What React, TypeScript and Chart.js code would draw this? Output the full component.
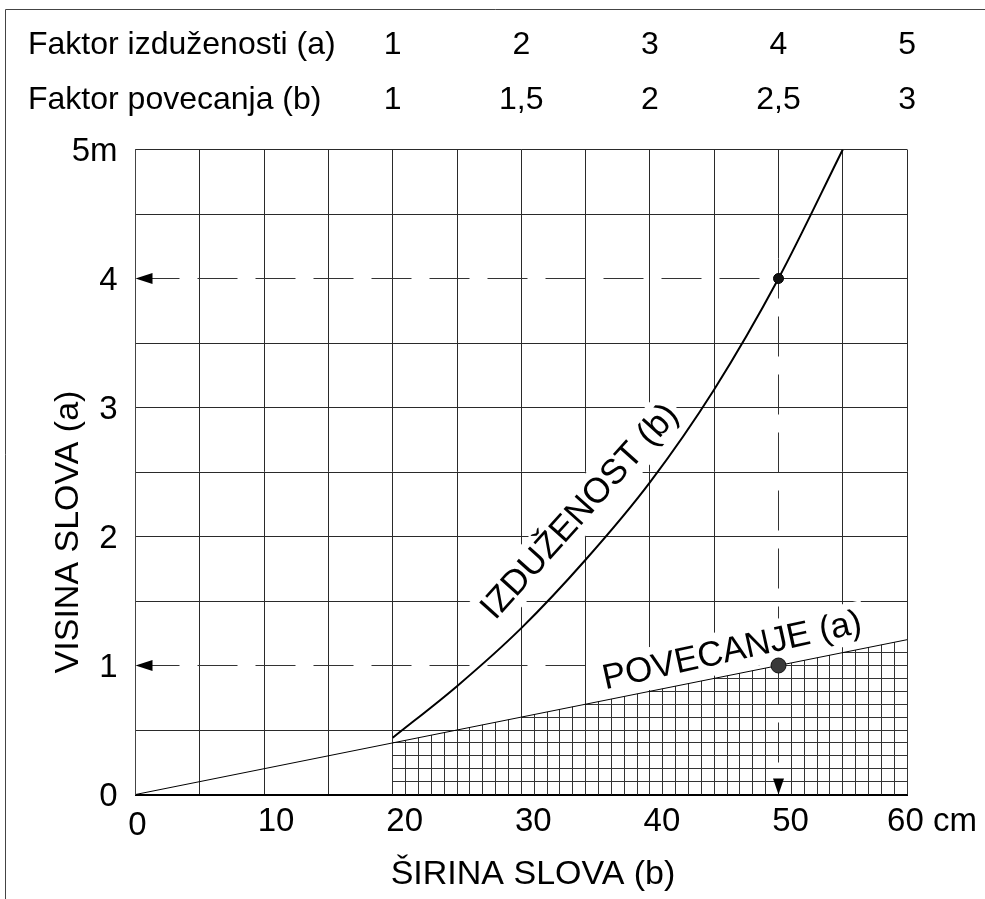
import React, { useEffect, useRef } from 'react';
import { Chart, registerables } from 'chart.js';

Chart.register(...registerables);

// ---- data ----
const X_TICKS = [0, 10, 20, 30, 40, 50, 60];
const X_TICK_LABELS = ['0', '10', '20', '30', '40', '50', '60 cm'];
const Y_TICKS = [0, 1, 2, 3, 4, 5];
const Y_TICK_LABELS = ['0', '1', '2', '3', '4', '5m'];

const TABLE_X = [20, 30, 40, 50, 60];
const FAKTOR_A = ['1', '2', '3', '4', '5'];
const FAKTOR_B = ['1', '1,5', '2', '2,5', '3'];
const ROW_A_LABEL = 'Faktor izduženosti (a)';
const ROW_B_LABEL = 'Faktor povecanja (b)';

const IZD_X = [20, 25, 30, 35, 40, 45, 50, 55];
const IZD_Y = [0.44, 0.84, 1.29, 1.82, 2.42, 3.14, 4.0, 5.0];

const POV_X = [0, 60];
const POV_Y = [0, 1.2];

const READ_X = 50;
const READ_A = 4;
const READ_B = 1;
const READ_TOP = 4.155;

const FINE_X_START = 20;
const FINE_X_END = 60;
const FINE_STEP_X = 1;
const FINE_STEP_Y = 0.1;

const CURVE_LABELS = [
  { text: 'IZDUŽENOST (b)', x: 34.58, y: 2.19, angle: -48 },
  { text: 'POVECANJE (a)', x: 46.4, y: 1.11, angle: -12.5 },
];

const X_TITLE = 'ŠIRINA SLOVA (b)';
const Y_TITLE = 'VISINA SLOVA (a)';

const FONT = '"Liberation Sans", Arial, Helvetica, sans-serif';
const GRID = '#2a2a2a';
const CLEAR = 'rgba(0,0,0,0)';

function povAt(x: number) {
  return POV_Y[0] + ((x - POV_X[0]) * (POV_Y[1] - POV_Y[0])) / (POV_X[1] - POV_X[0]);
}
function xAtPov(y: number) {
  return POV_X[0] + ((y - POV_Y[0]) * (POV_X[1] - POV_X[0])) / (POV_Y[1] - POV_Y[0]);
}
function align(p: number) {
  return Math.round(p - 0.5) + 0.5;
}

export default function App() {
  const ref = useRef<HTMLCanvasElement>(null);

  useEffect(() => {
    document.body.style.margin = '0';
    const canvas = ref.current!;
    let boxesDrawn = false;

    const deco = {
      id: 'deco',
      beforeDatasetsDraw(chart: any) {
        boxesDrawn = false;
        const { ctx } = chart;
        const xs = chart.scales.x;
        const ys = chart.scales.y;
        ctx.save();
        ctx.lineWidth = 1;
        // solid remainders of the grid lines that carry the reading lines
        ctx.strokeStyle = GRID;
        ctx.beginPath();
        for (const v of [READ_A, READ_B]) {
          const py = align(ys.getPixelForValue(v));
          ctx.moveTo(xs.getPixelForValue(READ_X), py);
          ctx.lineTo(xs.getPixelForValue(60), py);
        }
        const rx = align(xs.getPixelForValue(READ_X));
        ctx.moveTo(rx, ys.getPixelForValue(5));
        ctx.lineTo(rx, ys.getPixelForValue(READ_TOP));
        ctx.stroke();

        // fine hatching under POVECANJE line
        ctx.strokeStyle = '#333';
        ctx.beginPath();
        const nX = Math.round((FINE_X_END - FINE_X_START) / FINE_STEP_X);
        for (let i = 0; i <= nX; i++) {
          const x = FINE_X_START + i * FINE_STEP_X;
          if (x === READ_X) continue;
          const px = align(xs.getPixelForValue(x));
          ctx.moveTo(px, ys.getPixelForValue(0));
          ctx.lineTo(px, ys.getPixelForValue(povAt(x)));
        }
        const maxY = povAt(FINE_X_END);
        for (let k = 1; k * FINE_STEP_Y < maxY - 1e-9; k++) {
          const y = k * FINE_STEP_Y;
          const py = align(ys.getPixelForValue(y));
          const x0 = Math.max(FINE_X_START, xAtPov(y));
          ctx.moveTo(xs.getPixelForValue(x0), py);
          ctx.lineTo(xs.getPixelForValue(FINE_X_END), py);
        }
        ctx.stroke();
        ctx.restore();
      },
      beforeDatasetDraw(chart: any, args: any) {
        const ds = chart.data.datasets[args.index];
        if (boxesDrawn || ds.isDash) return;
        boxesDrawn = true;
        const { ctx } = chart;
        const xs = chart.scales.x;
        const ys = chart.scales.y;
        ctx.save();
        ctx.font = `35px ${FONT}`;
        for (const l of CURVE_LABELS) {
          const px = xs.getPixelForValue(l.x);
          const py = ys.getPixelForValue(l.y);
          const w = ctx.measureText(l.text).width;
          ctx.save();
          ctx.translate(px, py);
          ctx.rotate((l.angle * Math.PI) / 180);
          ctx.fillStyle = '#ffffff';
          ctx.fillRect(-w / 2 - 4, -22, w + 8, 42);
          ctx.fillStyle = '#000000';
          ctx.textAlign = 'center';
          ctx.textBaseline = 'middle';
          ctx.fillText(l.text, 0, 0);
          ctx.restore();
        }
        ctx.restore();
      },
      afterDatasetsDraw(chart: any) {
        const { ctx } = chart;
        const xs = chart.scales.x;
        const ys = chart.scales.y;
        ctx.save();
        ctx.fillStyle = '#000';
        const left = xs.getPixelForValue(0);
        for (const v of [READ_A, READ_B]) {
          const py = ys.getPixelForValue(v);
          ctx.beginPath();
          ctx.moveTo(left, py);
          ctx.lineTo(left + 17, py - 5.5);
          ctx.lineTo(left + 17, py + 5.5);
          ctx.closePath();
          ctx.fill();
        }
        const bx = xs.getPixelForValue(READ_X);
        const by = ys.getPixelForValue(0);
        ctx.beginPath();
        ctx.moveTo(bx, by);
        ctx.lineTo(bx - 5.5, by - 16);
        ctx.lineTo(bx + 5.5, by - 16);
        ctx.closePath();
        ctx.fill();
        ctx.restore();
      },
      afterDraw(chart: any) {
        const { ctx } = chart;
        const xs = chart.scales.x;
        const ys = chart.scales.y;
        ctx.save();
        // page frame
        ctx.strokeStyle = '#444';
        ctx.lineWidth = 1;
        ctx.beginPath();
        ctx.moveTo(5.5, 899);
        ctx.lineTo(5.5, 9.5);
        ctx.lineTo(985, 9.5);
        ctx.stroke();

        ctx.fillStyle = '#000';
        // y tick labels
        ctx.font = `33px ${FONT}`;
        ctx.textAlign = 'right';
        ctx.textBaseline = 'middle';
        Y_TICKS.forEach((v, i) => {
          ctx.fillText(Y_TICK_LABELS[i], xs.left - 18, ys.getPixelForValue(v) + 2);
        });
        // x tick labels
        X_TICKS.forEach((v, i) => {
          const px = xs.getPixelForValue(v);
          const base = ys.bottom;
          if (i === 0) {
            ctx.textAlign = 'center';
            ctx.fillText(X_TICK_LABELS[i], px + 2, base + 31);
          } else if (i === X_TICKS.length - 1) {
            ctx.textAlign = 'left';
            ctx.fillText(X_TICK_LABELS[i], px - 20, base + 27);
          } else {
            ctx.textAlign = 'center';
            ctx.fillText(X_TICK_LABELS[i], px + 12, base + 27);
          }
        });
        // axis titles
        ctx.font = `34px ${FONT}`;
        ctx.textAlign = 'center';
        ctx.fillText(X_TITLE, 533, 875);
        ctx.save();
        ctx.translate(69, 532);
        ctx.rotate(-Math.PI / 2);
        ctx.fillText(Y_TITLE, 0, 0);
        ctx.restore();
        // factor table
        ctx.font = `32px ${FONT}`;
        ctx.textAlign = 'left';
        ctx.fillText(ROW_A_LABEL, 28, 45);
        ctx.fillText(ROW_B_LABEL, 28, 100);
        ctx.textAlign = 'center';
        TABLE_X.forEach((v, i) => {
          const px = xs.getPixelForValue(v);
          ctx.fillText(FAKTOR_A[i], px, 45);
          ctx.fillText(FAKTOR_B[i], px, 100);
        });
        ctx.restore();
      },
    };

    const dashStyle = {
      showLine: true,
      borderColor: '#333',
      borderWidth: 1,
      borderDash: [40, 18],
      borderDashOffset: 54,
      pointRadius: 0,
      order: 3,
      isDash: true,
    };

    const chart = new Chart(canvas, {
      type: 'scatter',
      data: {
        datasets: [
          {
            label: 'B point',
            data: [{ x: READ_X, y: READ_B }],
            pointRadius: 7.5,
            pointBackgroundColor: '#3a3a3a',
            pointBorderColor: '#111',
            pointBorderWidth: 1,
            order: 1,
          },
          {
            label: 'A point',
            data: [{ x: READ_X, y: READ_A }],
            pointRadius: 5,
            pointBackgroundColor: '#111',
            pointBorderColor: '#000',
            pointBorderWidth: 1,
            order: 1,
          },
          {
            label: 'IZDUŽENOST (b)',
            data: IZD_X.map((x, i) => ({ x, y: IZD_Y[i] })),
            showLine: true,
            borderColor: '#000',
            borderWidth: 2,
            pointRadius: 0,
            cubicInterpolationMode: 'monotone',
            order: 2,
          },
          {
            label: 'POVECANJE (a)',
            data: POV_X.map((x, i) => ({ x, y: POV_Y[i] })),
            showLine: true,
            borderColor: '#000',
            borderWidth: 1,
            pointRadius: 0,
            order: 2,
          },
          { label: 'dash a', data: [{ x: 0, y: READ_A }, { x: READ_X, y: READ_A }], ...dashStyle },
          { label: 'dash b', data: [{ x: 0, y: READ_B }, { x: READ_X, y: READ_B }], ...dashStyle },
          {
            label: 'dash v',
            data: [{ x: READ_X, y: READ_TOP }, { x: READ_X, y: 0 }],
            ...dashStyle,
            borderDashOffset: 0,
          },
        ] as any,
      },
      options: {
        animation: false,
        responsive: false,
        layout: { padding: { left: 135.5, top: 149.5, right: 77.9, bottom: 104.5 } },
        plugins: { legend: { display: false }, tooltip: { enabled: false } },
        events: [],
        scales: {
          x: {
            type: 'linear',
            min: 0,
            max: 60,
            ticks: { display: false, stepSize: 5 },
            grid: {
              color: (c: any) => (c.tick && c.tick.value === READ_X ? CLEAR : GRID),
              lineWidth: 1,
              drawTicks: false,
            },
            border: { display: true, color: '#000', width: 2 },
          },
          y: {
            type: 'linear',
            min: 0,
            max: 5,
            ticks: { display: false, stepSize: 0.5 },
            grid: {
              color: (c: any) =>
                c.tick && (c.tick.value === READ_A || c.tick.value === READ_B) ? CLEAR : GRID,
              lineWidth: 1,
              drawTicks: false,
            },
            border: { display: true, color: '#444', width: 1 },
          },
        },
      },
      plugins: [deco],
    });
    return () => chart.destroy();
  }, []);

  return (
    <div style={{ position: 'absolute', left: 0, top: 0 }}>
      <canvas ref={ref} width={985} height={899} style={{ display: 'block', width: 985, height: 899 }} />
    </div>
  );
}
